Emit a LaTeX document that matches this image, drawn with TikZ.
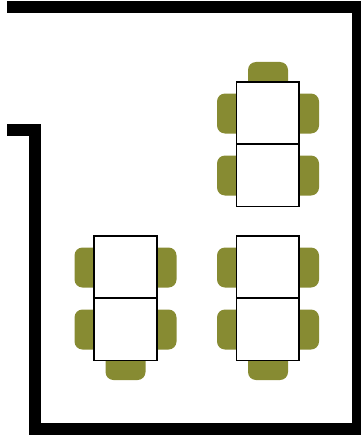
\documentclass[tikz,border=0pt]{standalone}
\definecolor{chaircol}{HTML}{878B32}
\tikzset{
  wall/.style={line width=12.2pt,line cap=butt,line join=miter,draw=black},
  chair/.style={fill=chaircol,draw=none,rounded corners=8pt},
  desk/.style={draw=black,fill=white,line width=1.8pt}
}
\newcommand{\chairat}[2]{\path[chair] (#1,#2) rectangle ++(40,40);}
\newcommand{\deskpair}[2]{%
  \chairat{#1-19.5}{#2+11.5}\chairat{#1-19.5}{#2+73.5}%
  \chairat{#1+42.5}{#2+11.5}\chairat{#1+42.5}{#2+73.5}}
\newcommand{\desks}[2]{%
  \draw[desk] (#1,#2) rectangle ++(62.7,62.2);
  \draw[desk] (#1,#2+62.2) rectangle ++(62.7,62.2);}
\begin{document}
\begin{tikzpicture}[x=1pt,y=-1pt]
\useasboundingbox (0,0) rectangle (361,436);
\clip (0,0) rectangle (361,436);
\draw[wall] (7,7.2) -- (357.8,7.2) -- (357.8,429.2) -- (35,429.2) -- (35,129.8) -- (7,129.8);
% top group
\chairat{248}{62}
\deskpair{236.5}{82}
\desks{236.5}{82}
% lower right group
\deskpair{236.5}{236}
\chairat{248}{340}
\desks{236.5}{236}
% lower left group
\deskpair{94}{236}
\chairat{105.5}{340}
\desks{94}{236}
\end{tikzpicture}
\end{document}
